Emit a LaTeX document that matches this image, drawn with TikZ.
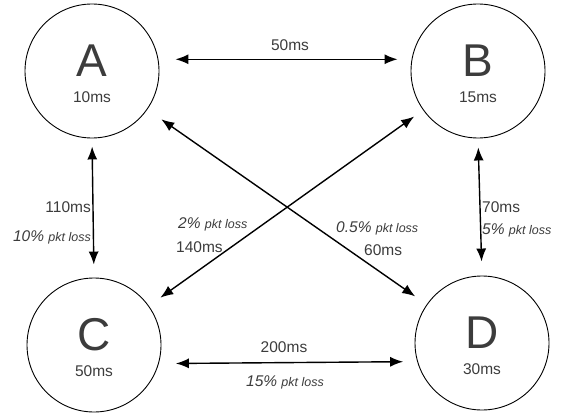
\documentclass[tikz,border=0pt]{standalone}
\usepackage{fontspec}
\setmainfont{Liberation Sans}
\usetikzlibrary{arrows.meta,positioning}

\definecolor{txtgray}{HTML}{3C3C3C}

\begin{document}
\begin{tikzpicture}[x=1pt,y=-1pt,
   station/.style={circle,draw,line width=0.9pt,minimum size=134pt,inner sep=0pt},
   letter/.style={text=txtgray,font=\fontsize{46}{46}\selectfont,inner sep=0pt},
   delay/.style={text=txtgray,font=\fontsize{15.5}{16}\selectfont,inner sep=0pt},
   loss/.style={text=txtgray,font=\fontsize{15.5}{16}\selectfont\itshape,inner sep=0pt},
   link/.style={{Latex[length=13pt,width=10pt]}-{Latex[length=13pt,width=10pt]},line width=1.4pt}]
   \useasboundingbox (0,0) rectangle (561,417);
   \newcommand{\pkt}{{\fontsize{12.5}{13}\selectfont pkt loss}}
   % stations
   \node[station] (A) at (92,71) {};
   \node[station] (B) at (478,71) {};
   \node[station] (C) at (94,345) {};
   \node[station] (D) at (482,343) {};
   \node[letter] (An) at (92,61) {A};
   \node[letter] (Bn) at (478,61) {B};
   \node[letter] (Cn) at (94,335) {C};
   \node[letter] (Dn) at (482,333) {D};
   \node[delay] (Ad) at (92,97) {10ms};
   \node[delay] (Bd) at (478,97) {15ms};
   \node[delay] (Cd) at (94,371) {50ms};
   \node[delay] (Dd) at (482,369) {30ms};
   % links
   \draw[link,shorten <=17pt,shorten >=14pt] (A.10) -- (B.170);
   \draw[link,shorten <=17pt,shorten >=14pt] (C.-16) -- (D.196);
   \draw[link,shorten <=8pt,shorten >=13pt] (A.south) -- (C.north);
   \draw[link,shorten <=9pt,shorten >=14pt] (B.south) -- (D.north);
   \draw[link,shorten <=17pt,shorten >=14pt] (A) -- (D);
   \draw[link,shorten <=11pt,shorten >=14pt] (B) -- (C);
   % labels
   \node[delay] (ABd) at (290,45) {50ms};
   \node[delay,anchor=east] (ACd) at (91,207) {110ms};
   \node[loss,anchor=east] (ACl) at (91,237) {10\% \pkt};
   \node[delay,anchor=west] (BDd) at (482,207) {70ms};
   \node[loss,anchor=west] (BDl) at (482,230) {5\% \pkt};
   \node[delay] (CDd) at (284,347) {200ms};
   \node[loss] (CDl) at (285,382) {15\% \pkt};
   \node[loss,anchor=west] (BCl) at (178,224) {2\% \pkt};
   \node[delay,anchor=west] (BCd) at (176,247) {140ms};
   \node[loss,anchor=west] (ADl) at (336,228) {0.5\% \pkt};
   \node[delay,anchor=west] (ADd) at (364,250) {60ms};
\end{tikzpicture}
\end{document}
